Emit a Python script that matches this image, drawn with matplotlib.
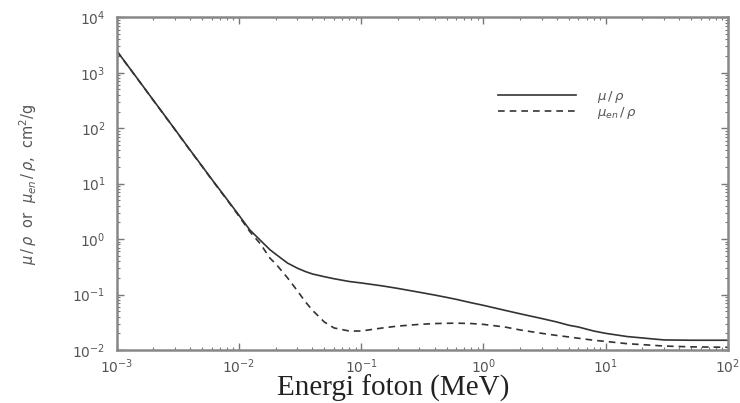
import numpy as np
import matplotlib
matplotlib.use("Agg")
import matplotlib.pyplot as plt
from matplotlib.ticker import LogLocator, FixedLocator, NullFormatter

# energies in MeV
energy = [0.001, 0.0015, 0.002, 0.003, 0.004, 0.005, 0.006, 0.008, 0.01, 0.0123,
          0.015, 0.018, 0.02, 0.025, 0.03, 0.035, 0.04, 0.05, 0.06, 0.08, 0.1, 0.15, 0.2, 0.3,
          0.4, 0.5, 0.6, 0.8, 1, 1.5, 2, 3, 4, 5, 6, 8, 10, 15, 20, 30, 50, 100]

# mu/rho (cm2/g)
mu_rho = [2500, 750, 318, 95, 40, 20.7, 12, 5.2, 2.7, 1.46,
          0.95, 0.64, 0.535, 0.37, 0.30, 0.26, 0.235, 0.21, 0.193, 0.172, 0.162, 0.143, 0.129, 0.11,
          0.098, 0.089, 0.082, 0.071, 0.064, 0.052, 0.045, 0.037, 0.032, 0.028, 0.026, 0.022, 0.020, 0.0175, 0.0165, 0.0152, 0.015, 0.015]

# mu_en/rho (cm2/g)
muen_rho = [2480, 745, 315, 94, 39.5, 20.4, 11.8, 5.1, 2.6, 1.36,
            0.82, 0.45, 0.36, 0.2, 0.118, 0.074, 0.052, 0.032, 0.025, 0.022, 0.022, 0.025, 0.027, 0.029,
            0.030, 0.0303, 0.0305, 0.030, 0.029, 0.026, 0.023, 0.020, 0.0183, 0.0172, 0.0163, 0.0150, 0.0143, 0.0130, 0.0125, 0.0118, 0.0114, 0.0112]

x_ticks = [1e-3, 1e-2, 1e-1, 1e0, 1e1, 1e2]
x_ticklabels = [r'$10^{-3}$', r'$10^{-2}$', r'$10^{-1}$', r'$10^{0}$', r'$10^{1}$', r'$10^{2}$']
y_ticks = [1e-2, 1e-1, 1e0, 1e1, 1e2, 1e3, 1e4]
y_ticklabels = [r'$10^{-2}$', r'$10^{-1}$', r'$10^{0}$', r'$10^{1}$', r'$10^{2}$', r'$10^{3}$', r'$10^{4}$']

plt.rcParams['mathtext.fontset'] = 'dejavusans'

fig = plt.figure(figsize=(7.4, 4.03), dpi=100)
ax = fig.add_axes([0.1577, 0.1315, 0.8257, 0.8255])

ax.plot(energy, mu_rho, color='#333333', lw=1.2, label=r'$\mu\,/\,\rho$')
ax.plot(energy, muen_rho, color='#333333', lw=1.2, ls=(0, (4, 3)), label=r'$\mu_{en}\,/\,\rho$')

ax.set_xscale('log')
ax.set_yscale('log')
ax.set_xlim(1e-3, 1e2)
ax.set_ylim(1e-2, 1e4)

ax.xaxis.set_major_locator(FixedLocator(x_ticks))
ax.set_xticklabels(x_ticklabels)
ax.yaxis.set_major_locator(FixedLocator(y_ticks))
ax.set_yticklabels(y_ticklabels)
ax.xaxis.set_minor_locator(LogLocator(base=10, subs=np.arange(2, 10)))
ax.yaxis.set_minor_locator(LogLocator(base=10, subs=np.arange(2, 10)))
ax.xaxis.set_minor_formatter(NullFormatter())
ax.yaxis.set_minor_formatter(NullFormatter())

ax.tick_params(which='both', direction='in', top=True, right=True, color='#777777')
ax.tick_params(which='major', length=5, width=1, labelsize=10, labelcolor='#555555', pad=8)
ax.tick_params(axis='x', which='major', pad=5)
ax.tick_params(which='minor', length=2.5, width=0.8)
for s in ax.spines.values():
    s.set_color('#888888')
    s.set_linewidth(1.8)

ax.set_ylabel(r'$\mu\,/\,\rho$  or  $\mu_{en}\,/\,\rho$,  cm$^2$/g', fontsize=10.5, color='#555555', labelpad=24)
fig.text(0.532, 0.0174, 'Energi foton (MeV)', family='Liberation Serif', fontsize=21,
         ha='center', va='baseline', color='#222222')

leg = ax.legend(loc='upper left', bbox_to_anchor=(0.624, 0.785), frameon=False,
                handlelength=5.9, labelspacing=0.0, borderpad=0, borderaxespad=0,
                handletextpad=1.6, fontsize=9.5)
for t in leg.get_texts():
    t.set_color('#555555')

fig.savefig('out.png', dpi=100, facecolor='white')
